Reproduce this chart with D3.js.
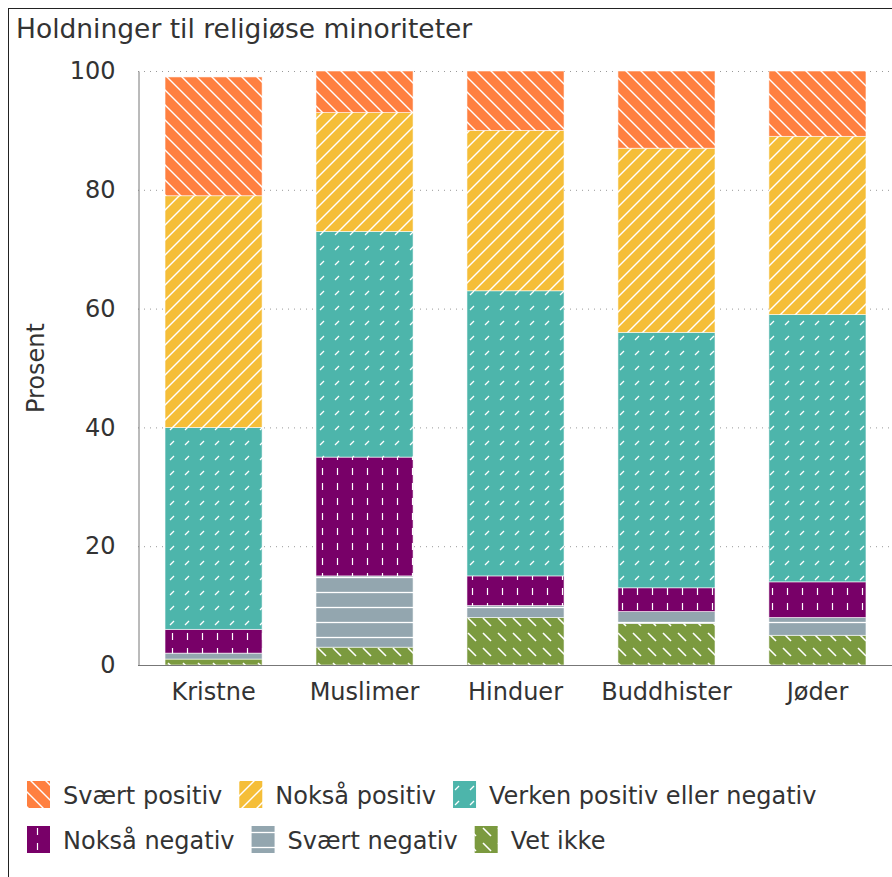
<!DOCTYPE html>
<html>
<head>
<meta charset="utf-8">
<script src="https://cdn.jsdelivr.net/npm/d3@7"></script>
<style>
  body { margin: 0; background: #fff; }
  text { font-family: "DejaVu Sans", sans-serif; fill: #333; }
</style>
</head>
<body>
<div id="chart"></div>
<script>
"use strict";

// data
var categories = ["Kristne", "Muslimer", "Hinduer", "Buddhister", "Jøder"];
var seriesNames = ["Vet ikke", "Svært negativ", "Nokså negativ", "Verken positiv eller negativ", "Nokså positiv", "Svært positiv"];
var vetIkke      = [1, 3, 8, 7, 5];
var svaertNeg    = [1, 12, 2, 2, 3];
var noksaNeg     = [4, 20, 5, 4, 6];
var verken       = [34, 38, 48, 43, 45];
var noksaPos     = [39, 20, 27, 31, 30];
var svaertPos    = [20, 7, 10, 13, 11];
var yTicks = [0, 20, 40, 60, 80, 100];
var legendOrder = ["Svært positiv", "Nokså positiv", "Verken positiv eller negativ", "Nokså negativ", "Svært negativ", "Vet ikke"];

var seriesValues = [vetIkke, svaertNeg, noksaNeg, verken, noksaPos, svaertPos];
var colors = {
  "Vet ikke": "#7b9a3f",
  "Svært negativ": "#93a6af",
  "Nokså negativ": "#780068",
  "Verken positiv eller negativ": "#4db5ab",
  "Nokså positiv": "#f5be38",
  "Svært positiv": "#ff8040"
};

var width = 892, height = 877;
var margin = { left: 138, right: 0, top: 71, bottom: 212 };

var svg = d3.select("#chart").append("svg")
  .attr("width", width)
  .attr("height", height);

// patterns
var defs = svg.append("defs");
function makePattern(id, color, drawFn) {
  var p = defs.append("pattern")
    .attr("id", id)
    .attr("patternUnits", "userSpaceOnUse")
    .attr("width", 15)
    .attr("height", 15);
  p.append("rect").attr("width", 15).attr("height", 15).attr("fill", color);
  drawFn(p);
}
function line(p, x1, y1, x2, y2, w) {
  p.append("line")
    .attr("x1", x1).attr("y1", y1).attr("x2", x2).attr("y2", y2)
    .attr("stroke", "#fff").attr("stroke-width", w || 1.4);
}
var patternIds = {};
seriesNames.forEach(function(name, i) { patternIds[name] = "pat" + i; });

makePattern(patternIds["Svært positiv"], colors["Svært positiv"], function(p) {
  line(p, 0, 0, 15, 15); line(p, -1, 14, 1, 16); line(p, 14, -1, 16, 1);
});
makePattern(patternIds["Nokså positiv"], colors["Nokså positiv"], function(p) {
  line(p, 0, 15, 15, 0); line(p, -1, 1, 1, -1); line(p, 14, 16, 16, 14);
});
makePattern(patternIds["Verken positiv eller negativ"], colors["Verken positiv eller negativ"], function(p) {
  line(p, 5, 10, 9, 6, 1.3);
});
makePattern(patternIds["Nokså negativ"], colors["Nokså negativ"], function(p) {
  line(p, 7.5, 3, 7.5, 10, 1.2);
});
makePattern(patternIds["Svært negativ"], colors["Svært negativ"], function(p) {
  line(p, 0, 7.5, 15, 7.5, 1.3);
});
makePattern(patternIds["Vet ikke"], colors["Vet ikke"], function(p) {
  line(p, 3, 3, 11, 11, 1.6);
});

// frame
svg.append("rect")
  .attr("x", 8.5).attr("y", 8.5)
  .attr("width", width).attr("height", height)
  .attr("fill", "none").attr("stroke", "#222").attr("stroke-width", 1);

// title
svg.append("text")
  .attr("x", 16).attr("y", 38)
  .style("font-size", "26.5px")
  .text("Holdninger til religiøse minoriteter");

// scales
var x = d3.scaleBand()
  .domain(categories)
  .range([margin.left, margin.left + 755])
  .paddingInner(0.357)
  .paddingOuter(0.179);

var y = d3.scaleLinear()
  .domain([0, 100])
  .range([height - margin.bottom, margin.top]);

// gridlines
svg.append("g")
  .selectAll("line")
  .data(yTicks)
  .enter()
  .append("line")
    .attr("x1", margin.left)
    .attr("x2", width)
    .attr("y1", function(d) { return y(d) + 0.5; })
    .attr("y2", function(d) { return y(d) + 0.5; })
    .attr("stroke", "#999")
    .attr("stroke-width", 1)
    .attr("stroke-dasharray", "1,5");

// stacked data
var rows = categories.map(function(c, i) {
  var row = { category: c };
  seriesNames.forEach(function(name, s) { row[name] = seriesValues[s][i]; });
  return row;
});
var stack = d3.stack().keys(seriesNames);
var stacked = stack(rows);

svg.append("g")
  .selectAll("g")
  .data(stacked)
  .enter()
  .append("g")
    .attr("fill", function(d) { return "url(#" + patternIds[d.key] + ")"; })
  .selectAll("rect")
  .data(function(d) { return d; })
  .enter()
  .append("rect")
    .attr("x", function(d) { return x(d.data.category); })
    .attr("y", function(d) { return y(d[1]); })
    .attr("width", x.bandwidth())
    .attr("height", function(d) { return Math.max(0, y(d[0]) - y(d[1])); })
    .attr("stroke", "#fff")
    .attr("stroke-width", 0.8)
    .attr("stroke-opacity", 0.7);

// y axis
var yAxis = svg.append("g")
  .attr("transform", "translate(" + (margin.left + 0.5) + ",0)")
  .call(d3.axisLeft(y).tickValues(yTicks).tickSize(0).tickPadding(23));
yAxis.select(".domain").attr("stroke", "#777");
yAxis.selectAll("text")
  .style("font-size", "24px")
  .style("font-family", "DejaVu Sans, sans-serif")
  .attr("fill", "#333");

// x axis
var xAxis = svg.append("g")
  .attr("transform", "translate(0," + (y(0) + 0.5) + ")")
  .call(d3.axisBottom(x).tickSize(0).tickPadding(17));
xAxis.select(".domain").attr("stroke", "#777").attr("d", "M" + margin.left + ",0H" + width);
xAxis.selectAll("text")
  .style("font-size", "24px")
  .style("font-family", "DejaVu Sans, sans-serif")
  .attr("fill", "#333");

// y label
svg.append("text")
  .attr("transform", "translate(44," + y(50) + ") rotate(-90)")
  .attr("text-anchor", "middle")
  .style("font-size", "24px")
  .text("Prosent");

// legend
var legendRows = [legendOrder.slice(0, 3), legendOrder.slice(3)];
legendRows.forEach(function(items, r) {
  var lx = 27;
  var ly = 781 + r * 45;
  items.forEach(function(name) {
    svg.append("rect")
      .attr("x", lx).attr("y", ly)
      .attr("width", 23).attr("height", 27)
      .attr("fill", "url(#" + patternIds[name] + ")");
    var t = svg.append("text")
      .attr("x", lx + 36).attr("y", ly + 23)
      .style("font-size", "24px")
      .text(name);
    lx = lx + 36 + t.node().getComputedTextLength() + 17;
  });
});
</script>
</body>
</html>
